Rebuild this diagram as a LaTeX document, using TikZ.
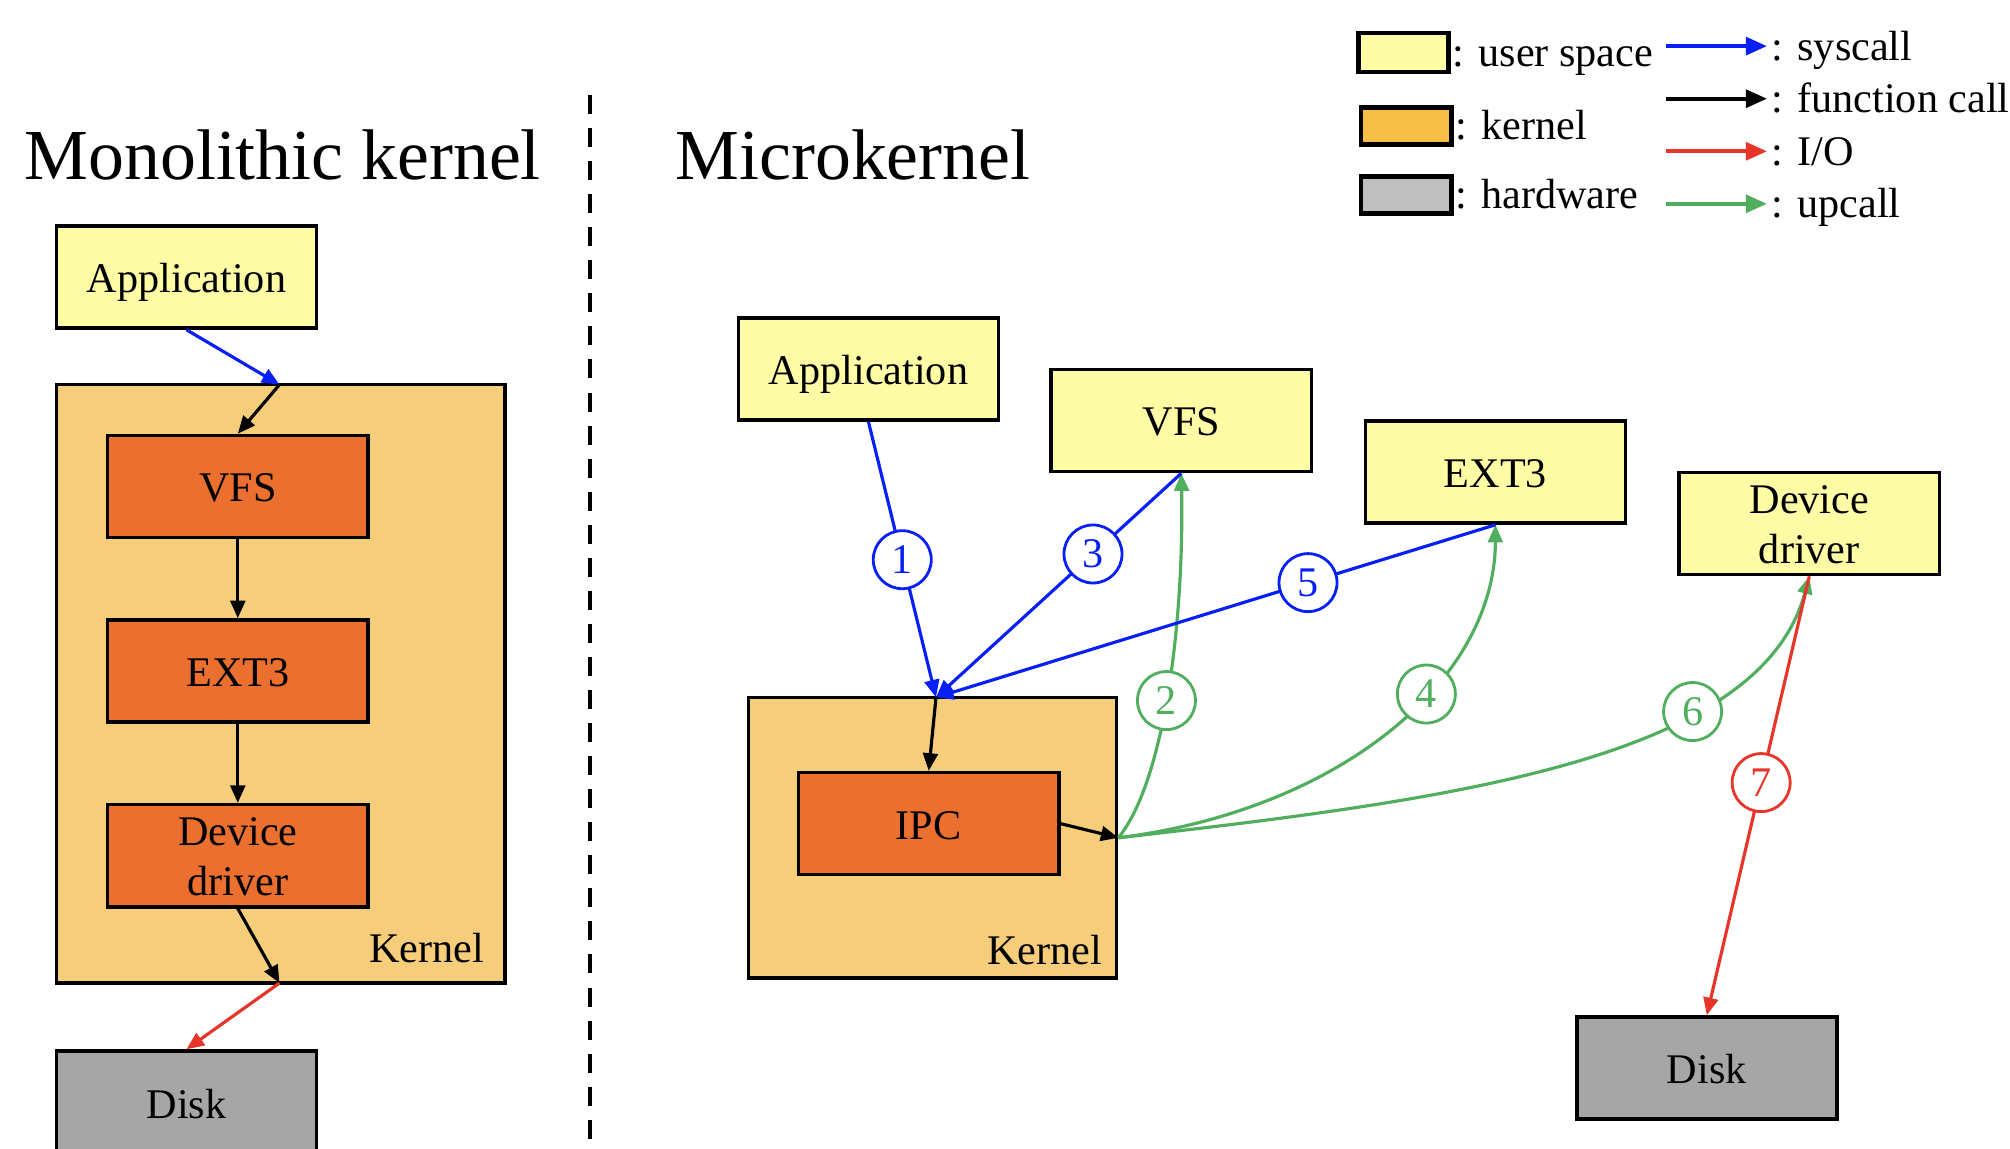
\documentclass[tikz,border=0pt]{standalone}
\usepackage{fontspec}
\setmainfont{Liberation Serif}
\usetikzlibrary{arrows.meta}
\definecolor{userY}{RGB}{255,252,166}
\definecolor{kernA}{RGB}{246,205,122}
\definecolor{modO}{RGB}{235,112,48}
\definecolor{legK}{RGB}{245,191,69}
\definecolor{legH}{RGB}{191,191,191}
\definecolor{diskG}{RGB}{166,166,166}
\definecolor{sysB}{RGB}{8,32,245}
\definecolor{ioR}{RGB}{232,53,42}
\definecolor{upG}{RGB}{82,174,95}
\begin{document}
\begin{tikzpicture}[x=0.01cm,y=-0.01cm,
  box/.style={draw=black, line width=1pt, inner sep=0pt, minimum width=2.6cm, minimum height=1.02cm, font=\fontsize{12}{14.2}\selectfont, align=center, text height=8.8pt, text depth=0pt},
  two/.style={text height=22.8pt, text depth=0pt},
  ubox/.style={box, fill=userY},
  mbox/.style={box, fill=modO},
  hbox/.style={box, fill=diskG},
  kbox/.style={draw=black, line width=1pt, fill=kernA, inner sep=0pt},
  lab/.style={inner sep=0pt, font=\fontsize{12}{14.2}\selectfont},
  ttl/.style={inner sep=0pt, font=\fontsize{20.4}{24}\selectfont},
  circ/.style={circle, draw=#1, text=#1, fill=white, line width=0.8pt, minimum size=0.58cm, inner sep=0pt, font=\fontsize{12}{14}\selectfont},
  arr/.style={line width=0.9pt, -{Triangle[length=5pt,width=4.2pt]}},
  larr/.style={line width=1.2pt, -{Triangle[length=6pt,width=5pt]}},
  lgbox/.style={draw=black, line width=1.4pt, inner sep=0pt, minimum width=0.9cm, minimum height=0.37cm}
]
\clip (0,0) rectangle (2010,1148);

% ---------- titles ----------
\node[ttl, anchor=base west] (t1) at (24,179.5) {Monolithic kernel};
\node[ttl, anchor=base west] (t2) at (675,179.5) {Microkernel};

% ---------- divider ----------
\coordinate (dvT) at (590,95);
\coordinate (dvB) at (590,1150);
\draw[line width=1.2pt, dash pattern=on 5.4pt off 4pt] (dvT) -- (dvB);

% ---------- left: monolithic ----------
\node[kbox, minimum width=4.486cm, minimum height=5.984cm] (kL) at (280.7,683.8) {};
\node[lab, anchor=base east] (kLt) at (485,962) {Kernel};
\node[ubox] (appL) at (186.5,277) {Application};
\node[mbox] (vfsL) at (237.8,486.5) {VFS};
\node[mbox] (extL) at (237.8,671) {EXT3};
\node[mbox, two] (ddL) at (237.8,855.7) {Device\\driver};
\node[hbox, minimum height=1.04cm] (diskL) at (186.5,1103) {Disk};
\coordinate (k1) at (279.5,384.6);
\coordinate (k2) at (279.5,983);
\draw[arr, sysB] (appL.south) -- (k1);
\draw[arr] (k1) -- (vfsL.north);
\draw[arr] (vfsL) -- (extL);
\draw[arr] (extL) -- (ddL);
\draw[arr] (ddL.south) -- (k2);
\draw[arr, ioR] (k2) -- (diskL.north);

% ---------- right: microkernel ----------
\node[kbox, minimum width=3.68cm, minimum height=2.807cm] (kR) at (932.55,837.75) {};
\node[lab, anchor=base east] (kRt) at (1103,964) {Kernel};
\node[mbox] (ipc) at (928.7,823.6) {IPC};
\node[ubox] (appR) at (868.5,369.2) {Application};
\node[ubox] (vfsR) at (1181.3,420.5) {VFS};
\node[ubox] (extR) at (1495.4,472) {EXT3};
\node[ubox, two] (ddR) at (1809.3,523.5) {Device\\driver};
\node[hbox] (diskR) at (1706.8,1068) {Disk};

\coordinate (P) at (936,697.4);
\coordinate (Q) at (kR.east);

% upcalls (green)
\draw[arr, upG] (Q) .. controls (1165,780) and (1184,620) .. node[circ=upG, pos=0.47] {2} (vfsR.south);
\draw[arr, upG] (Q) .. controls (1340,810) and (1495,680) .. node[circ=upG, pos=0.6] {4} (extR.south);
\draw[arr, upG] (Q) .. controls (1450,800) and (1760,760) .. node[circ=upG, pos=0.685] {6} (ddR.south);

% syscalls (blue)
\draw[arr, sysB] (appR.south) -- node[circ=sysB, pos=0.5] {1} (P);
\draw[arr, sysB] (vfsR.south) -- node[circ=sysB, pos=0.36] {3} (P);
\draw[arr, sysB] (extR.south) -- node[circ=sysB, pos=0.335] {5} (P);

% function calls (black)
\draw[arr] (P) -- (ipc.north);
\draw[arr] (ipc.east) -- (Q);

% I/O (red)
\draw[arr, ioR] (ddR.south) -- node[circ=ioR, pos=0.47] {7} (diskR.north);

% ---------- legend ----------
\node[lgbox, fill=userY, minimum height=0.39cm] (lgU) at (1403.7,52.5) {};
\node[lab, anchor=mid west] (lgUt) at (1452,58) {: user space};
\node[lgbox, fill=legK] (lgK) at (1406,125.6) {};
\node[lab, anchor=mid west] (lgKt) at (1455,131) {: kernel};
\node[lgbox, fill=legH] (lgH) at (1406,195) {};
\node[lab, anchor=mid west] (lgHt) at (1455,200.5) {: hardware};

\coordinate (a1s) at (1666,46.1);   \coordinate (a1e) at (1767,46.1);
\coordinate (a2s) at (1666,98.7);   \coordinate (a2e) at (1767,98.7);
\coordinate (a3s) at (1666,151.3);  \coordinate (a3e) at (1767,151.3);
\coordinate (a4s) at (1666,203.8);  \coordinate (a4e) at (1767,203.8);
\draw[larr, sysB] (a1s) -- (a1e);
\draw[larr] (a2s) -- (a2e);
\draw[larr, ioR] (a3s) -- (a3e);
\draw[larr, upG] (a4s) -- (a4e);
\node[lab, anchor=mid west] (l1) at (1771,52) {: syscall};
\node[lab, anchor=mid west] (l2) at (1771,104.7) {: function call};
\node[lab, anchor=mid west] (l3) at (1771,157.3) {: I/O};
\node[lab, anchor=mid west] (l4) at (1771,209.8) {: upcall};
\end{tikzpicture}
\end{document}
